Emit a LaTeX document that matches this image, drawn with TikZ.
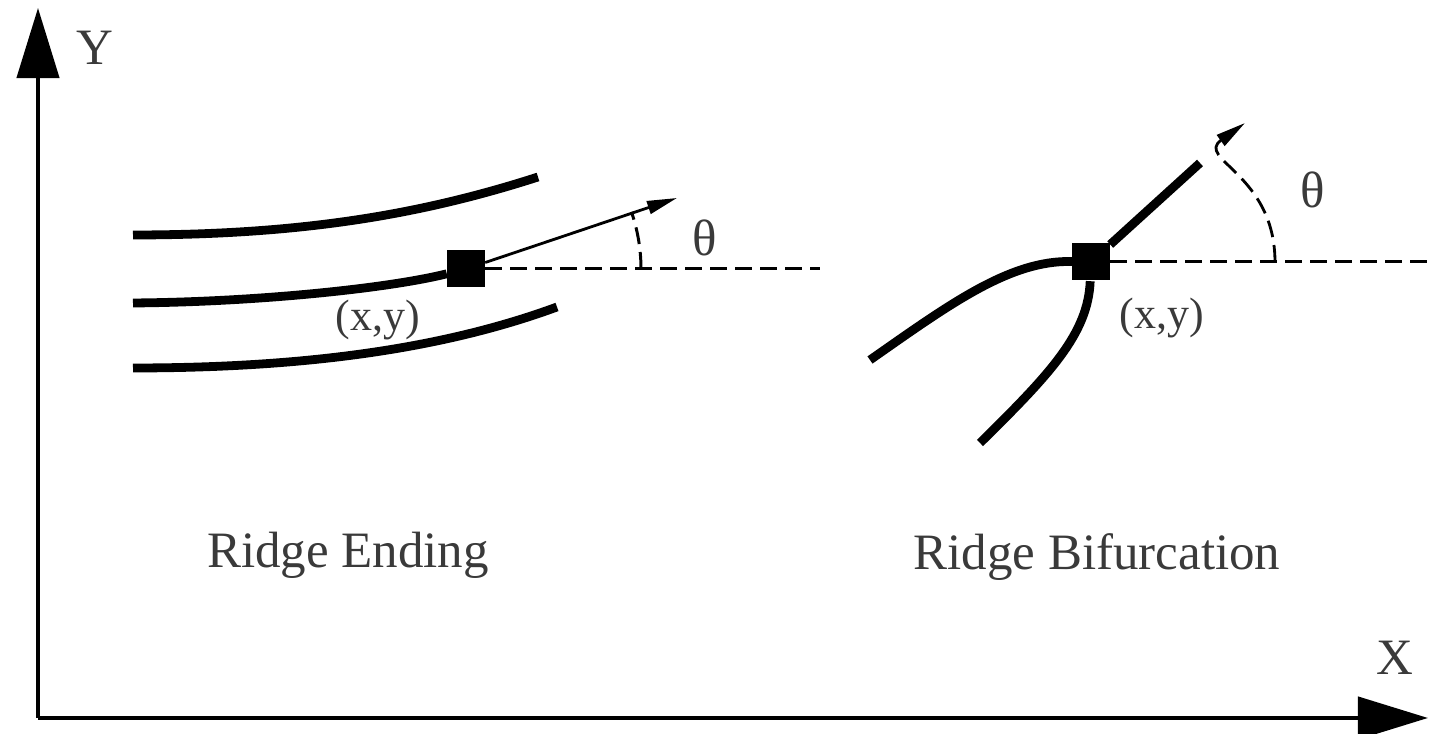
\documentclass[tikz,border=0pt]{standalone}
\usepackage{fontspec}
\setmainfont{Liberation Serif}
\usetikzlibrary{arrows.meta,calc}
\definecolor{Ink}{HTML}{000000}
\definecolor{Label}{HTML}{3A3A3A}

\begin{document}
\begin{tikzpicture}[
      x=0.01cm, y=0.01cm,
      every node/.style={font=\fontsize{14.5}{16}\selectfont, text=Label},
      coordlabel/.style={font=\fontsize{12.5}{14}\selectfont},
      axis/.style={draw=Ink, line width=1.2pt, -{Triangle[length=0.7cm,width=0.42cm]}},
      ridge/.style={draw=Ink, line width=2.5pt},
      minutia/.style={fill=Ink, minimum size=0.37cm, inner sep=0pt},
      arrow/.style={draw=Ink, line width=0.8pt, -{Triangle[length=0.3cm,width=0.13cm]}},
      refline/.style={draw=Ink, line width=0.85pt, dash pattern=on 0.17cm off 0.08cm}
    ]
    \useasboundingbox (0,0) rectangle (1429,734);

    % axes
    \coordinate (origin) at (38,16);
    \coordinate (ytip) at (38,726);
    \coordinate (xtip) at (1428,16);
    \draw[axis] (origin) -- (ytip);
    \draw[axis] (origin) -- (xtip);
    \node (ylab) at (95,686) {Y};
    \node (xlab) at (1395,76) {X};

    % ridge ending
    \node[minutia] (end) at (466,465) {};
    \coordinate (endtip) at (677,536);
    \coordinate (endref) at (820,465);
    \draw[ridge] (133,499) .. controls (300,499) and (420,519) .. (538,557);
    \draw[ridge] (133,431) .. controls (260,432) and (390,446) .. (end);
    \draw[ridge] (133,366) .. controls (300,366) and (440,384) .. (557,427);
    \draw[arrow] (end) -- (endtip);
    \draw[refline] (end) -- (endref);
    \draw[refline] ($(end)+(175,0)$) arc[start angle=0, end angle=19, radius=175];
    \node (endang) at (705,496) {θ};
    \node[coordlabel] (endpos) at (378,414) {(x,y)};
    \node (endname) at (348,179) {Ridge Ending};

    % ridge bifurcation
    \node[minutia] (bif) at (1091,472) {};
    \coordinate (biftip) at (1245,611);
    \coordinate (bifref) at (1429,472);
    \draw[ridge] (bif) -- (1200,571);
    \draw[ridge] (bif) .. controls (1010,474) and (950,430) .. (870,374);
    \draw[ridge] (bif) .. controls (1088,400) and (1050,360) .. (980,291);
    \draw[refline] (bif) -- (bifref);
    \draw[refline, arrow] (1275,472) .. controls (1275,560) and (1195,575) .. (biftip);
    \node (bifang) at (1313,544) {θ};
    \node[coordlabel] (bifpos) at (1162,416) {(x,y)};
    \node (bifname) at (1097,177) {Ridge Bifurcation};
  \end{tikzpicture}
\end{document}
